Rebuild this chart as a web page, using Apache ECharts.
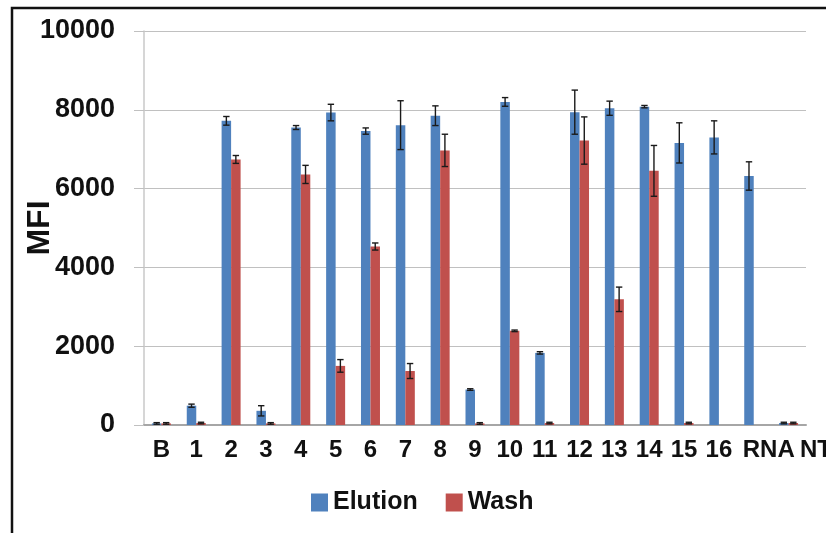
<!DOCTYPE html>
<html>
<head>
<meta charset="utf-8">
<script src="https://cdn.jsdelivr.net/npm/echarts@6/dist/echarts.min.js"></script>
<style>
html,body{margin:0;padding:0;background:#fff;}
#chart{width:826px;height:533px;}
</style>
</head>
<body>
<div id="chart"></div>
<script>
var categories = ['B','1','2','3','4','5','6','7','8','9','10','11','12','13','14','15','16','RNA','NTC'];
var elution    = [40, 490, 7720, 360, 7550, 7930, 7460, 7610, 7850, 900, 8200, 1830, 7940, 8040, 8080, 7160, 7300, 6320, 50];
var elutionErr = [20, 40, 110, 130, 50, 210, 80, 620, 250, 20, 110, 30, 560, 180, 30, 510, 420, 360, 20];
var wash       = [40, 50, 6740, 40, 6360, 1500, 4530, 1370, 6970, 40, 2390, 50, 7220, 3190, 6450, 50, 0, 0, 50];
var washErr    = [20, 20, 100, 20, 230, 160, 90, 190, 410, 20, 20, 20, 600, 310, 645, 20, 0, 0, 20];
var yTicks = [0, 2000, 4000, 6000, 8000, 10000];

var FONT = "'Liberation Sans', Arial, sans-serif";
var BAR_W = 9.5;
var labelShift = {'RNA': 30, 'NTC': 72};

function errSeries(name, vals, errs, dir) {
  var data = vals.map(function (v, i) { return [i, v, errs[i]]; });
  return {
    type: 'custom',
    name: name + ' err',
    coordinateSystem: 'cartesian2d',
    z: 10,
    silent: true,
    encode: { x: 0, y: 1 },
    data: data,
    renderItem: function (params, api) {
      var i = api.value(0), v = api.value(1), e = api.value(2);
      if (v === 0 && e === 0) return null;
      var top = api.coord([i, v + e]);
      var bot = api.coord([i, Math.max(0, v - e)]);
      var x = top[0] + dir * BAR_W / 2;
      var cap = 3.2;
      var st = { stroke: '#1a1a1a', lineWidth: 1.4 };
      return {
        type: 'group',
        children: [
          { type: 'line', shape: { x1: x, y1: top[1], x2: x, y2: bot[1] }, style: st },
          { type: 'line', shape: { x1: x - cap, y1: top[1], x2: x + cap, y2: top[1] }, style: st },
          { type: 'line', shape: { x1: x - cap, y1: bot[1], x2: x + cap, y2: bot[1] }, style: st }
        ]
      };
    }
  };
}

var chart = echarts.init(document.getElementById('chart'), null, { renderer: 'canvas' });
chart.setOption({
  animation: false,
  backgroundColor: '#ffffff',
  textStyle: { fontFamily: FONT },
  graphic: [{
    type: 'rect',
    shape: { x: 12, y: 8, width: 900, height: 600 },
    style: { fill: 'none', stroke: '#111', lineWidth: 2.5 },
    z: 100
  }],
  grid: { left: 144, right: 20, top: 31, bottom: 108, containLabel: false, outerBoundsMode: 'none' },
  legend: {
    data: ['Elution', 'Wash'],
    left: 311, top: 490, padding: 0,
    icon: 'rect', itemWidth: 17, itemHeight: 18, itemGap: 28,
    textStyle: { fontFamily: FONT, fontSize: 25, fontWeight: 'bold', color: '#111' }
  },
  xAxis: {
    type: 'category',
    data: categories.map(function (c) {
      return labelShift[c] ? { value: c, textStyle: { padding: [0, 0, 0, labelShift[c]] } } : c;
    }),
    axisLine: { lineStyle: { color: '#a6a6a6', width: 2 } },
    axisTick: { show: false },
    axisLabel: { interval: 0, margin: 13, fontSize: 24, fontWeight: 'bold', color: '#111', fontFamily: FONT, hideOverlap: false }
  },
  yAxis: {
    type: 'value', min: 0, max: 10000, interval: 2000,
    name: 'MFI', nameLocation: 'middle', nameRotate: 90, nameGap: 88, nameMoveOverlap: false,
    nameTextStyle: { fontSize: 32, fontWeight: 'bold', color: '#111', fontFamily: FONT },
    axisLine: { show: true, lineStyle: { color: '#c8c8c8', width: 1.5 } },
    axisTick: { show: true, length: 10, lineStyle: { color: '#c0c0c0' } },
    splitLine: { lineStyle: { color: '#c0c0c0', width: 1.2 } },
    axisLabel: {
      margin: 29, fontSize: 27, fontWeight: 'bold', color: '#111', fontFamily: FONT,
      formatter: function (v) { return yTicks.indexOf(v) >= 0 ? String(v) : ''; }
    }
  },
  series: [
    { name: 'Elution', type: 'bar', data: elution, barWidth: BAR_W, barGap: '0%', itemStyle: { color: '#4F81BD' } },
    { name: 'Wash', type: 'bar', data: wash, barWidth: BAR_W, barGap: '0%', itemStyle: { color: '#C0504D' } },
    errSeries('Elution', elution, elutionErr, -1),
    errSeries('Wash', wash, washErr, 1)
  ]
});
</script>
</body>
</html>
